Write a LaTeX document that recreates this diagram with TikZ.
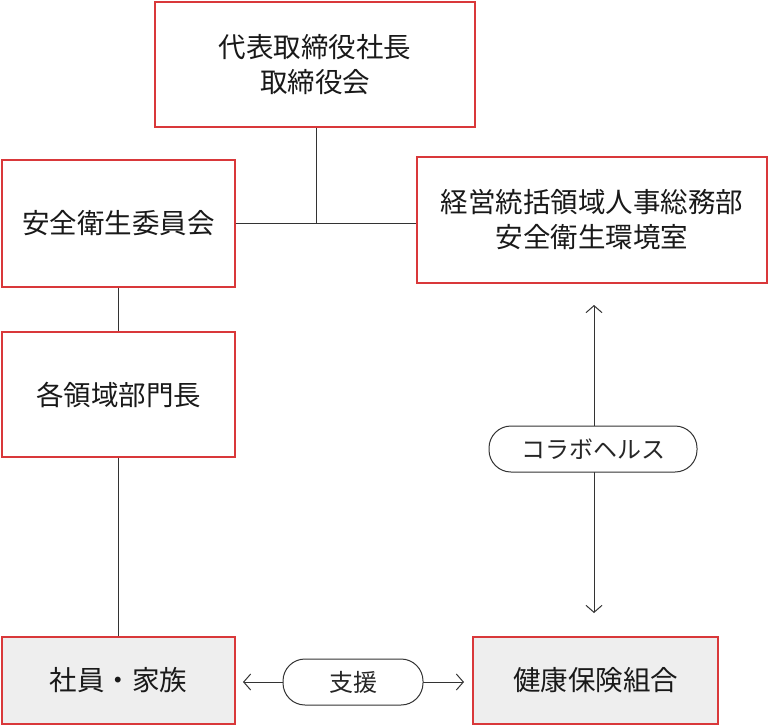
\documentclass[tikz,border=0pt]{standalone}
\usepackage{fontspec}
\setmainfont{Noto Sans CJK JP}
\usetikzlibrary{arrows.meta}
\definecolor{boxred}{HTML}{D9383A}
\definecolor{boxgray}{HTML}{EEEEEE}
\definecolor{linegray}{HTML}{333333}
\begin{document}
\begin{tikzpicture}[x=1pt, y=-1pt,
    box/.style={draw=boxred, line width=1.2pt, fill=white, align=center,
                font=\fontsize{27.5}{35}\selectfont, text=black!90, inner sep=0pt},
    member/.style={box, fill=boxgray},
    pill/.style={draw=linegray, line width=1pt, fill=white, rounded corners=22pt,
                 font=\fontsize{24}{28}\selectfont, text=black!85, inner sep=0pt},
    link/.style={draw=linegray, line width=1pt},
    both/.style={link, {Straight Barb[length=7pt,width=16pt]}-{Straight Barb[length=7pt,width=16pt]}},
  ]
    \useasboundingbox (0,0) rectangle (768,726);
    % boxes
    \node[box, minimum width=320pt, minimum height=125pt] (ceo) at (315,64.5) {代表取締役社長\\取締役会};
    \node[box, minimum width=233pt, minimum height=127pt] (committee) at (118.5,223.5) {安全衛生委員会};
    \node[box, minimum width=350pt, minimum height=126pt] (office) at (592,220) {経営統括領域人事総務部\\安全衛生環境室};
    \node[box, minimum width=233pt, minimum height=125pt] (heads) at (118.5,394.5) {各領域部門長};
    \node[member, minimum width=233pt, minimum height=87pt] (staff) at (118.5,680.5) {社員・家族};
    \node[member, minimum width=245pt, minimum height=87pt] (union) at (595.5,680.5) {健康保険組合};
    \coordinate (join) at (316,223);
    % connectors
    \draw[link] (ceo.south -| join) -- (join);
    \draw[link] (committee.east |- join) -- (office.west |- join);
    \draw[link] (committee) -- (heads);
    \draw[link] (heads) -- (staff);
    \coordinate (collabTop) at (594,305);
    \coordinate (collabBot) at (594,613);
    \draw[both] (collabTop) -- (collabBot);
    \coordinate (supL) at (243,682);
    \coordinate (supR) at (464,682);
    \draw[both] (supL) -- (supR);
    % labels
    \node[pill, minimum width=208pt, minimum height=46pt] (collab) at (593,449) {コラボヘルス};
    \node[pill, minimum width=140pt, minimum height=46pt] (support) at (353,682) {支援};
\end{tikzpicture}
\end{document}
